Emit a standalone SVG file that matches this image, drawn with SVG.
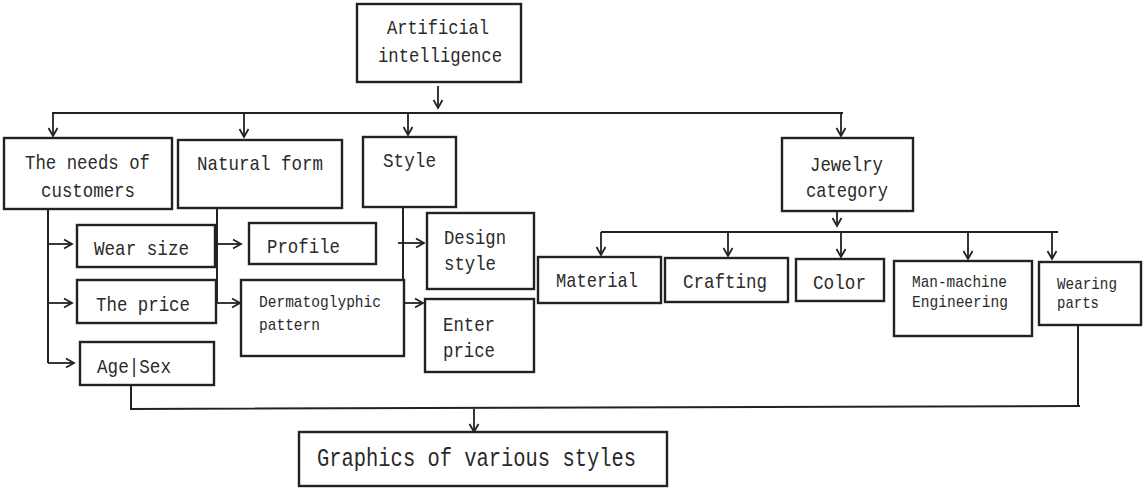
<svg xmlns="http://www.w3.org/2000/svg" width="1143" height="488" viewBox="0 0 1143 488">
  <defs>
    <style>
      .box { fill: #fff; stroke: #222; stroke-width: 2.4; }
      .lbl { font-family: "Liberation Mono", "DejaVu Sans Mono", monospace; font-size: 21px; fill: #2a2a2a; }
      .sm { font-size: 17px; }
      .lg { font-size: 26px; }
      .wire { fill: none; stroke: #222; stroke-width: 2; }
      .arr { fill: none; stroke: #222; stroke-width: 1.8; marker-end: url(#head); }
    </style>
    <marker id="head" markerUnits="userSpaceOnUse" markerWidth="12" markerHeight="12" viewBox="0 0 12 12" refX="10" refY="6" orient="auto">
      <path d="M2,1.5 L10,6 L2,10.5" fill="none" stroke="#222" stroke-width="1.8" stroke-linejoin="miter"/>
    </marker>
  </defs>
  <rect width="1143" height="488" fill="#fff"/>

  <!-- connectors -->
  <g id="connectors">
    <path class="arr" d="M438,86 V108"/>
    <path class="wire" d="M52,113 H843"/>
    <path class="arr" d="M53,113 V136"/>
    <path class="arr" d="M244,113 V137"/>
    <path class="arr" d="M408,113 V135"/>
    <path class="arr" d="M841,113 V136"/>

    <path class="wire" d="M48,209 V363"/>
    <path class="arr" d="M48,244 H72"/>
    <path class="arr" d="M48,303 H72"/>
    <path class="arr" d="M48,363 H74"/>

    <path class="wire" d="M217,208 V303"/>
    <path class="arr" d="M217,244 H241"/>
    <path class="arr" d="M217,303 H240"/>

    <path class="wire" d="M403,207 V303"/>
    <path class="arr" d="M398,243 H424"/>
    <path class="arr" d="M403,303 H423"/>

    <path class="arr" d="M837,212 V226"/>
    <path class="wire" d="M601,232 H1058"/>
    <path class="arr" d="M601,232 V255"/>
    <path class="arr" d="M728,232 V256"/>
    <path class="arr" d="M841,232 V257"/>
    <path class="arr" d="M968,232 V259"/>
    <path class="arr" d="M1052,232 V259"/>

    <path class="wire" d="M131,385 V409 L1080,406"/>
    <path class="wire" d="M1078,325 V406"/>
    <path class="arr" d="M474,409 V432"/>
  </g>

  <g id="ai">
    <rect class="box" x="357" y="4" width="164" height="78"/>
    <text class="lbl" x="387" y="34" textLength="102" lengthAdjust="spacingAndGlyphs">Artificial</text>
    <text class="lbl" x="378" y="62" textLength="124" lengthAdjust="spacingAndGlyphs">intelligence</text>
  </g>
  <g id="needs">
    <rect class="box" x="4" y="138" width="168" height="71"/>
    <text class="lbl" x="25" y="169" textLength="125" lengthAdjust="spacingAndGlyphs">The needs of</text>
    <text class="lbl" x="41" y="197" textLength="94" lengthAdjust="spacingAndGlyphs">customers</text>
  </g>
  <g id="natural">
    <rect class="box" x="178" y="140" width="164" height="68"/>
    <text class="lbl" x="197" y="170" textLength="126" lengthAdjust="spacingAndGlyphs">Natural form</text>
  </g>
  <g id="style">
    <rect class="box" x="363" y="137" width="93" height="70"/>
    <text class="lbl" x="383" y="167" textLength="53" lengthAdjust="spacingAndGlyphs">Style</text>
  </g>
  <g id="jewelry">
    <rect class="box" x="782" y="138" width="131" height="73"/>
    <text class="lbl" x="810" y="171" textLength="73" lengthAdjust="spacingAndGlyphs">Jewelry</text>
    <text class="lbl" x="806" y="197" textLength="82" lengthAdjust="spacingAndGlyphs">category</text>
  </g>
  <g id="wear-size">
    <rect class="box" x="77" y="225" width="138" height="42"/>
    <text class="lbl" x="94" y="255" textLength="95" lengthAdjust="spacingAndGlyphs">Wear size</text>
  </g>
  <g id="profile">
    <rect class="box" x="249" y="223" width="127" height="41"/>
    <text class="lbl" x="267" y="253" textLength="73" lengthAdjust="spacingAndGlyphs">Profile</text>
  </g>
  <g id="design-style">
    <rect class="box" x="427" y="213" width="107" height="76"/>
    <text class="lbl" x="444" y="244" textLength="62" lengthAdjust="spacingAndGlyphs">Design</text>
    <text class="lbl" x="444" y="270" textLength="52" lengthAdjust="spacingAndGlyphs">style</text>
  </g>
  <g id="price">
    <rect class="box" x="77" y="280" width="139" height="43"/>
    <text class="lbl" x="96" y="311" textLength="94" lengthAdjust="spacingAndGlyphs">The price</text>
  </g>
  <g id="dermatoglyphic">
    <rect class="box" x="241" y="280" width="163" height="76"/>
    <text class="lbl sm" x="259" y="307" textLength="122" lengthAdjust="spacingAndGlyphs">Dermatoglyphic</text>
    <text class="lbl sm" x="259" y="330" textLength="61" lengthAdjust="spacingAndGlyphs">pattern</text>
  </g>
  <g id="enter-price">
    <rect class="box" x="425" y="299" width="109" height="73"/>
    <text class="lbl" x="443" y="331" textLength="52" lengthAdjust="spacingAndGlyphs">Enter</text>
    <text class="lbl" x="443" y="357" textLength="52" lengthAdjust="spacingAndGlyphs">price</text>
  </g>
  <g id="age-sex">
    <rect class="box" x="80" y="342" width="134" height="43"/>
    <text class="lbl" x="97" y="373" textLength="74" lengthAdjust="spacingAndGlyphs">Age|Sex</text>
  </g>
  <g id="material">
    <rect class="box" x="538" y="257" width="123" height="46"/>
    <text class="lbl" x="556" y="287" textLength="82" lengthAdjust="spacingAndGlyphs">Material</text>
  </g>
  <g id="crafting">
    <rect class="box" x="665" y="258" width="123" height="44"/>
    <text class="lbl" x="683" y="288" textLength="84" lengthAdjust="spacingAndGlyphs">Crafting</text>
  </g>
  <g id="color">
    <rect class="box" x="796" y="259" width="88" height="42"/>
    <text class="lbl" x="813" y="289" textLength="53" lengthAdjust="spacingAndGlyphs">Color</text>
  </g>
  <g id="man-machine">
    <rect class="box" x="894" y="261" width="138" height="75"/>
    <text class="lbl sm" x="912" y="287" textLength="95" lengthAdjust="spacingAndGlyphs">Man-machine</text>
    <text class="lbl sm" x="912" y="307" textLength="96" lengthAdjust="spacingAndGlyphs">Engineering</text>
  </g>
  <g id="wearing-parts">
    <rect class="box" x="1039" y="262" width="102" height="63"/>
    <text class="lbl sm" x="1057" y="289" textLength="60" lengthAdjust="spacingAndGlyphs">Wearing</text>
    <text class="lbl sm" x="1057" y="308" textLength="42" lengthAdjust="spacingAndGlyphs">parts</text>
  </g>
  <g id="graphics">
    <rect class="box" x="299" y="432" width="368" height="54"/>
    <text class="lbl lg" x="317" y="466" textLength="319" lengthAdjust="spacingAndGlyphs">Graphics of various styles</text>
  </g>
</svg>
